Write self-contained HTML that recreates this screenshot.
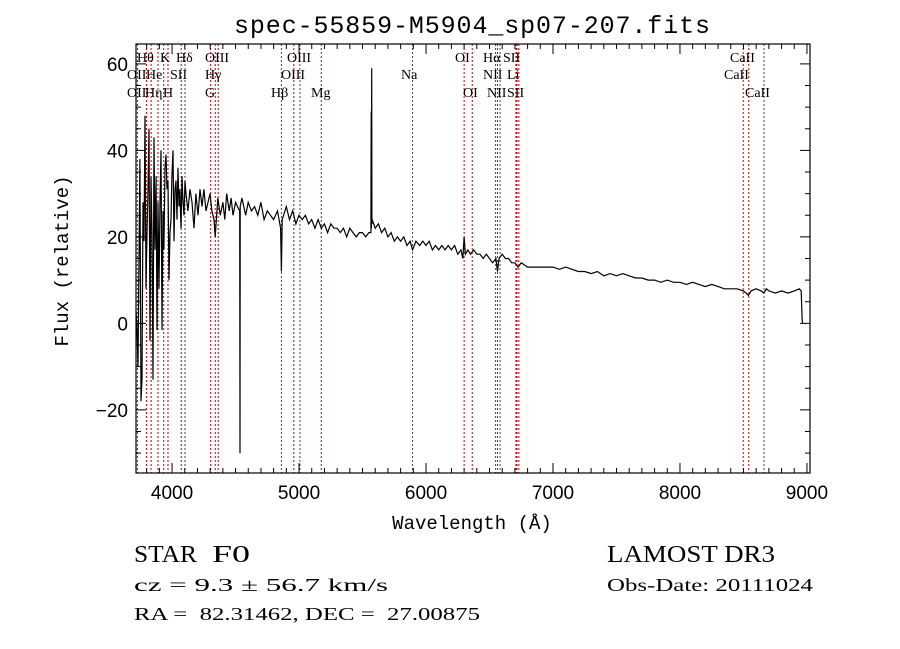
<!DOCTYPE html>
<html><head><meta charset="utf-8"><style>
body{margin:0;background:#fff;}
svg{display:block;}
.t{font-family:"Liberation Serif",serif;font-size:14px;fill:#000;}
.m{font-family:"Liberation Mono",monospace;fill:#000;}
.s{font-family:"Liberation Sans",sans-serif;fill:#000;}
.f{font-family:"Liberation Serif",serif;fill:#000;}
</style></head><body>
<svg id="chart" width="900" height="649" viewBox="0 0 900 649" xmlns="http://www.w3.org/2000/svg">
<rect width="900" height="649" fill="#fff"/>
<text class="m" x="472" y="33" font-size="25" text-anchor="middle" textLength="476">spec-55859-M5904_sp07-207.fits</text>
<g id="lines"></g>
<g id="labels"></g>
<path id="spec" fill="none" stroke="#000" stroke-width="1.2"/>
<g id="axes"></g>
<text class="m" x="472" y="529" font-size="19" text-anchor="middle">Wavelength (Å)</text>
<text class="m" x="0" y="0" font-size="19" text-anchor="middle" transform="translate(68,261) rotate(-90)">Flux (relative)</text>
<text class="f" x="134" y="562" font-size="24" textLength="63" lengthAdjust="spacingAndGlyphs">STAR</text>
<text class="f" x="212" y="562" font-size="24" textLength="38" lengthAdjust="spacingAndGlyphs">F0</text>
<text class="f" x="134" y="591" font-size="18" textLength="254" lengthAdjust="spacingAndGlyphs" style="white-space:pre">cz = 9.3 ± 56.7 km/s</text>
<text class="f" x="134" y="620" font-size="18" textLength="346" lengthAdjust="spacingAndGlyphs" style="white-space:pre">RA =  82.31462, DEC =  27.00875</text>
<text class="f" x="607" y="562" font-size="24" textLength="168" lengthAdjust="spacingAndGlyphs">LAMOST DR3</text>
<text class="f" x="607" y="591" font-size="18" textLength="206" lengthAdjust="spacingAndGlyphs">Obs-Date: 20111024</text>
</svg>
<script>
const waves=[3716,3724,3732,3747,3755,3763,3771,3779,3787,3795,
3803,3810,3818,3826,3834,3842,3850,3858,3866,3874,
3881,3889,3897,3905,3913,3921,3929,3936,3944,3952,
3960,3968,3976,3984,3992,3999,4007,4015,4023,4031,
4039,4047,4055,4062,4070,4078,4086,4094,4102,4110,
4125,4141,4157,4173,4188,4204,4220,4236,4251,4267,
4283,4299,4314,4330,4340,4360,4380,4400,4415,4430,
4450,4465,4480,4500,4515,4533,4535,4537,4550,4580,
4600,4625,4650,4675,4700,4725,4750,4775,4800,4830,
4855,4861,4867,4900,4925,4950,4975,5000,5025,5050,
5075,5100,5125,5150,5175,5200,5225,5250,5275,5300,
5325,5350,5375,5400,5425,5450,5475,5500,5525,5550,
5566,5568,5570,5572,5574,5576,5600,5625,5650,5675,
5700,5725,5750,5775,5800,5825,5850,5875,5894,5920,
5950,5975,6000,6025,6050,6075,6100,6125,6150,6175,
6200,6225,6250,6275,6290,6300,6310,6330,6350,6375,
6400,6425,6450,6475,6500,6525,6550,6563,6575,6600,
6625,6650,6675,6700,6725,6750,6800,6850,6900,6950,
7000,7050,7100,7150,7200,7250,7300,7350,7400,7450,
7500,7550,7600,7650,7700,7750,7800,7850,7900,7950,
8000,8050,8100,8150,8200,8250,8300,8350,8400,8450,
8500,8520,8540,8560,8600,8640,8660,8680,8700,8750,
8800,8850,8900,8940,8955,8962,8966];
const fluxes=[3,-1.5,-10,38,-18,-13,28,19,48,8,
21,30,45,-4,34,21,-13,43,17,34,
-1.5,28,8,28,40,-1.5,26,17,36,39,
31,33,10,21,24,34,40,19,31,33,
24,36,27,31,22,34,28,25,33,30,
26,31,28,22,30,25,31,27,31,26,
28,30,26,24,20,29,25,28,24,30,
26,29,25,28,27,26,-30,27,29,25,
28,26,27,25,28,24,26,25,24,26,
22,12,24,27,24,26,23,25,24,25,
23,24,22,24,22,23,21,23,22,22,
21,22,20,22,21,20,21,21,20,21,
21,49,22,59,23,24,22,23,21,22,
20,21,19,20,19,20,18,19,17,19,
18,19,18,19,17,18,17,18,17,18,
17,18,16,17,15,20,16,17,16,17,
16,16,15,16,15,14,15,12,15,16,
15,15,14,14,13,14,13,13,13,13,
13,12.5,13,12.5,12,12,11.5,12,11,11.5,
11,11.5,11,10.5,10.5,10,10,9.5,10,9.5,
9.5,9,9.5,9,8.5,9,8.5,8,8,8,
7.5,7,6.5,7.5,8,7.5,7,8,7.5,7,
7.5,7,7.5,8,7.5,1,0];
const tickLabelsX=["4000","5000","6000","7000","8000","9000"];
const tickLabelsY=["−20","0","20","40","60"];
const lineWaves=[3727,3798,3835,3889,3934,3968,4072,4102,4304,4340,4363,4861,4959,5007,5175,5894,6300,6364,6548,6563,6583,6708,6716,6731,8498,8542,8662];
const lineRed=[1,1,1,1,1,1,1,0,1,1,1,0,1,0,1,0,1,1,0,0,0,1,1,1,1,1,0];
const labelText=["Hθ","K","Hδ","OIII","OIII","OI","Hα","SII","CaII","OII","He","SII","Hγ","OIII","Na","NII","Li","CaII","OII","Hη","H","G","Hβ","Mg","OI","NII","SII","CaII"];
const labelRow=[0,0,0,0,0,0,0,0,0,1,1,1,1,1,1,1,1,1,2,2,2,2,2,2,2,2,2,2];
const labelPx=[137,160,176,205,287,455,483,503,730,127,146,170,205,281,401,483,507,724,127,145,163,205,271,311,463,487,507,745];

const L=136,R=810,T=44,B=473,XMIN=3716,XMAX=9024,YMIN=-34.6,YMAX=64.6;
const X=w=>L+(w-XMIN)/(XMAX-XMIN)*(R-L);
const Y=v=>B-(v-YMIN)/(YMAX-YMIN)*(B-T);
const NS="http://www.w3.org/2000/svg";
function mk(tag,attrs,parent){const e=document.createElementNS(NS,tag);for(const k in attrs)e.setAttribute(k,attrs[k]);parent.appendChild(e);return e;}

const lg=document.getElementById('lines');
lineWaves.forEach((w,i)=>{
  const e=mk('line',{x1:X(w),x2:X(w),y1:T,y2:B,stroke:lineRed[i]?'#c00000':'#444','stroke-width':1,'stroke-dasharray':'2,2'},lg);
  
  
});
const lb=document.getElementById('labels');
const rowY=[62,79,97];
labelText.forEach((t,i)=>{
  const e=mk('text',{x:labelPx[i],y:rowY[labelRow[i]],class:'t'},lb);
  e.textContent=t;
  
  
});
let d='';
const n=Math.min(waves.length,fluxes.length);
for(let i=0;i<n;i++){d+=(i?'L':'M')+X(waves[i]).toFixed(1)+','+Y(fluxes[i]).toFixed(1);}
document.getElementById('spec').setAttribute('d',d);

const ax=document.getElementById('axes');
const fr=mk('rect',{x:L,y:T,width:R-L,height:B-T,fill:'none',stroke:'#000','stroke-width':1.2},ax);


for(let w=3800;w<=9000;w+=100){
  const big=w%1000===0,len=big?10:5;
  mk('line',{x1:X(w),x2:X(w),y1:B,y2:B-len,stroke:'#000'},ax);
  mk('line',{x1:X(w),x2:X(w),y1:T,y2:T+len,stroke:'#000'},ax);
}
tickLabelsX.forEach(s=>{
  const e=mk('text',{x:X(+s),y:B+26,class:'s','font-size':19,'text-anchor':'middle'},ax);
  e.textContent=s;
  
  
});
for(let v=-30;v<=60;v+=5){
  const big=v%20===0,len=big?10:5;
  mk('line',{x1:L,x2:L+len,y1:Y(v),y2:Y(v),stroke:'#000'},ax);
  mk('line',{x1:R,x2:R-len,y1:Y(v),y2:Y(v),stroke:'#000'},ax);
}
tickLabelsY.forEach(s=>{
  const v=+s.replace('−','-');
  const e=mk('text',{x:L-8,y:Y(v)+7,class:'s','font-size':19,'text-anchor':'end'},ax);
  e.textContent=s;
  
  
});
</script>
</body></html>
